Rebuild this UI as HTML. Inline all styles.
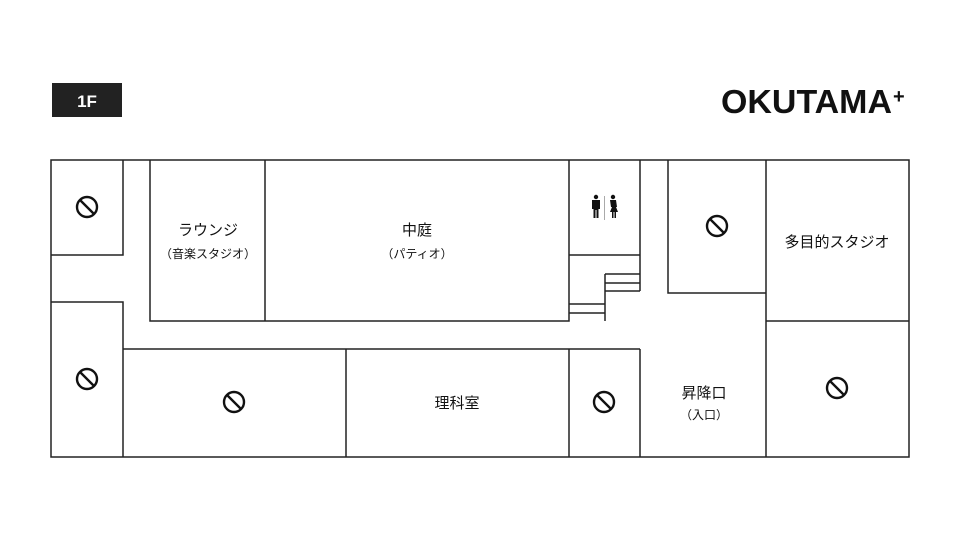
<!DOCTYPE html>
<html><head><meta charset="utf-8"><style>
body{margin:0;background:#fff;width:960px;height:540px;overflow:hidden}
text{font-family:"Liberation Sans","Noto Sans CJK JP",sans-serif;fill:#111}
</style></head><body>
<svg width="960" height="540" viewBox="0 0 960 540" xmlns="http://www.w3.org/2000/svg">
<defs>
<g id="no"><circle r="10" fill="none" stroke="#111" stroke-width="2.4"/><line x1="-7" y1="-7" x2="7" y2="7" stroke="#111" stroke-width="2.4"/></g>
</defs>
<rect x="52" y="83" width="70" height="34" fill="#222"/>
<text x="87" y="107" font-size="17" font-weight="bold" text-anchor="middle" style="fill:#fff">1F</text>
<text x="721" y="113" font-size="33" font-weight="bold" textLength="171" lengthAdjust="spacingAndGlyphs">OKUTAMA</text>
<text x="893" y="103" font-size="20" font-weight="bold">+</text>
<g fill="none" stroke="#222" stroke-width="1.5">
<rect x="51" y="160" width="858" height="297"/>
<path d="M51 255H123V160M51 302H123V457M123 349H640M150 160V321H569V160M265 160V321M569 255H640M640 160V291M605 274H640M605 283H640M605 291H640M605 274V321M569 304H605M569 313H605M668 160V293H766M766 160V457M766 321H909M346 349V457M569 349V457M640 349V457"/>
</g>
<use href="#no" x="87" y="207"/>
<use href="#no" x="87" y="379"/>
<use href="#no" x="234" y="402"/>
<use href="#no" x="604" y="402"/>
<use href="#no" x="717" y="226"/>
<use href="#no" x="837" y="388"/>
<g fill="#111">
<circle cx="596" cy="197" r="2.2"/><path d="M592 200h8v9h-1.5v9h-2v-8h-1v8h-2v-9H592z"/>
<rect x="604" y="196" width="1" height="24" fill="#aaa"/>
<circle cx="613" cy="197" r="2.2"/><path d="M610 200h6l1 7-1 0 2 5h-2v6h-1.5v-6h-1v6H612v-6h-2l2-5-1 0z"/>
</g>
<g text-anchor="middle">
<text x="208" y="235" font-size="15">ラウンジ</text>
<text x="208" y="258" font-size="12">（音楽スタジオ）</text>
<text x="417" y="235" font-size="15">中庭</text>
<text x="417" y="258" font-size="12">（パティオ）</text>
<text x="837" y="247" font-size="15">多目的スタジオ</text>
<text x="457" y="408" font-size="15">理科室</text>
<text x="704" y="398" font-size="15">昇降口</text>
<text x="704" y="419" font-size="12">（入口）</text>
</g>
</svg>
</body></html>
